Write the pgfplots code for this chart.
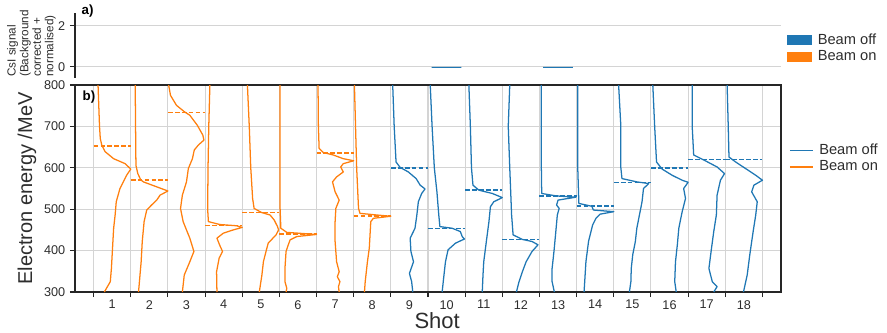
\documentclass[border=0pt]{standalone}
\usepackage{fontspec}
\setmainfont{Liberation Sans}
\usepackage{pgfplots}
\pgfplotsset{compat=1.18}

\definecolor{tabblue}{RGB}{31,119,180}
\definecolor{taborange}{RGB}{255,127,14}
\definecolor{spine}{RGB}{38,38,38}
\definecolor{gridc}{RGB}{212,212,212}
\definecolor{txt}{RGB}{45,45,45}

\pgfplotsset{
  shotcurve/.style={line width=0.95pt, line join=round, forget plot},
  cutoff/.style={line width=1.1pt, dash pattern=on 3.6pt off 1.6pt, forget plot},
  common/.style={
    scale only axis, width=529.5pt,
    xmin=-0.5, xmax=18.5,
    tick align=outside, major tick length=3.75pt,
    tick style={spine, line width=0.8pt},
    axis line style={spine, line width=0.9pt},
    grid style={gridc, line width=0.8pt},
    ticklabel style={font=\fontsize{9.5}{11}\selectfont, text=txt},
    /pgf/number format/assume math mode=true,
    clip mode=individual,
  },
}

\begin{document}
\begin{tikzpicture}

% b) electron spectra, one cell per shot
\begin{axis}[
  common,
  at={(0pt,0pt)}, anchor=south west,
  height=155.25pt,
  ymin=300, ymax=800,
  xtick pos=bottom, ytick pos=left,
  xtick={0,...,18}, xticklabels={},
  extra x ticks={0.5,1.5,...,17.5},
  extra x tick labels={1,2,3,4,5,6,7,8,9,10,11,12,13,14,15,16,17,18},
  extra x tick style={major tick length=0pt, grid=none,
    xticklabel style={yshift=-2.6pt}},
  ytick={300,400,...,800},
  grid=major,
  xlabel={Shot},
  xlabel style={font=\fontsize{16.5}{19}\selectfont, text=txt, inner sep=0pt,
    at={(axis description cs:0.513,-0.097)}, anchor=north},
  ylabel={Electron energy /MeV},
  ylabel style={font=\fontsize{15}{18}\selectfont, text=txt,
    at={(axis description cs:-0.068,0.5)}, anchor=center},
  legend cell align=left,
  legend style={at={(axis description cs:1.011,0.645)}, anchor=west,
    draw=none, fill=none, inner sep=0pt, row sep=0pt, column sep=3pt,
    nodes={inner sep=1.5pt, text=txt},
    font=\fontsize{11}{13}\selectfont},
]
\addlegendimage{tabblue, line width=1.1pt}
\addlegendentry{Beam off}
\addlegendimage{taborange, line width=1.1pt}
\addlegendentry{Beam on}

% shots 1-8: beam on
\addplot[taborange, shotcurve] coordinates {(0.12,800)(0.16,700)(0.18,671)(0.22,655)(0.31,639)(0.54,622)(0.85,610)(1.0,597)(0.89,582)(0.71,550)(0.61,518)(0.58,486)(0.54,454)(0.51,406)(0.48,357)(0.45,325)(0.29,300)};
\addplot[taborange, shotcurve] coordinates {(1.12,800)(1.13,700)(1.14,606)(1.19,586)(1.27,571)(1.34,566)(1.70,554)(2.0,544)(1.79,534)(1.70,522)(1.56,510)(1.43,498)(1.36,470)(1.31,422)(1.28,373)(1.21,300)};
\addplot[taborange, shotcurve] coordinates {(2.02,800)(2.07,775)(2.23,751)(2.45,735)(2.59,727)(2.79,703)(2.94,679)(2.97,667)(2.82,655)(2.71,643)(2.66,622)(2.55,598)(2.50,566)(2.39,534)(2.34,502)(2.41,470)(2.59,430)(2.70,398)(2.59,373)(2.44,341)(2.39,300)};
\addplot[taborange, shotcurve] coordinates {(3.13,800)(3.10,700)(3.08,600)(3.07,500)(3.09,470)(3.40,463)(3.85,460)(4.0,456)(3.76,450)(3.49,442)(3.32,430)(3.39,414)(3.47,398)(3.38,382)(3.31,349)(3.32,300)};
\addplot[taborange, shotcurve] coordinates {(4.14,800)(4.19,700)(4.23,600)(4.28,526)(4.32,502)(4.52,492)(4.75,486)(4.86,474)(4.95,458)(4.98,450)(4.91,438)(4.70,418)(4.64,398)(4.57,373)(4.53,341)(4.46,300)};
\addplot[taborange, shotcurve] coordinates {(5.02,800)(5.02,500)(5.04,454)(5.20,444)(6.0,439)(5.47,434)(5.29,426)(5.24,414)(5.18,398)(5.15,357)(5.15,325)(5.20,309)(5.18,300)};
\addplot[taborange, shotcurve] coordinates {(6.04,800)(6.05,700)(6.07,647)(6.18,637)(6.45,631)(6.72,622)(7.0,617)(6.72,610)(6.65,602)(6.72,590)(6.54,578)(6.43,566)(6.50,542)(6.61,522)(6.52,502)(6.50,470)(6.50,422)(6.54,373)(6.61,349)(6.56,337)(6.63,325)(6.59,313)(6.61,300)};
\addplot[taborange, shotcurve] coordinates {(7.02,800)(7.05,700)(7.08,600)(7.13,502)(7.17,490)(7.62,486)(8.0,483)(7.53,478)(7.46,470)(7.44,438)(7.42,406)(7.37,373)(7.31,325)(7.29,300)};

% shots 9-18: beam off
\addplot[tabblue, shotcurve] coordinates {(8.05,800)(8.09,700)(8.14,614)(8.25,601)(8.47,590)(8.68,574)(8.79,558)(8.92,549)(8.83,538)(8.74,518)(8.70,486)(8.65,454)(8.52,430)(8.54,398)(8.61,373)(8.50,345)(8.56,325)(8.59,300)};
\addplot[tabblue, shotcurve] coordinates {(9.06,800)(9.11,700)(9.17,600)(9.24,542)(9.29,486)(9.32,458)(9.65,454)(9.87,446)(9.92,434)(9.98,428)(9.74,418)(9.54,402)(9.47,373)(9.43,341)(9.38,300)};
\addplot[tabblue, shotcurve] coordinates {(10.10,800)(10.14,700)(10.17,600)(10.21,558)(10.37,546)(10.73,538)(11.0,528)(10.77,518)(10.68,506)(10.64,470)(10.57,422)(10.50,373)(10.48,341)(10.46,300)};
\addplot[tabblue, shotcurve] coordinates {(11.20,800)(11.16,700)(11.20,600)(11.25,486)(11.29,438)(11.54,427)(11.80,422)(11.96,414)(11.80,398)(11.64,373)(11.54,349)(11.45,325)(11.38,300)};
\addplot[tabblue, shotcurve] coordinates {(12.05,800)(12.05,600)(12.06,538)(12.46,532)(12.98,529)(12.50,522)(12.46,510)(12.53,502)(12.48,486)(12.44,446)(12.39,398)(12.34,357)(12.34,325)(12.40,300)};
\addplot[tabblue, shotcurve] coordinates {(13.03,800)(13.03,600)(13.06,514)(13.41,507)(13.45,498)(14.0,494)(13.63,488)(13.52,478)(13.43,462)(13.32,422)(13.25,373)(13.20,300)};
\addplot[tabblue, shotcurve] coordinates {(14.13,800)(14.19,700)(14.19,600)(14.22,574)(14.62,566)(14.94,562)(14.80,550)(14.76,518)(14.69,486)(14.62,454)(14.58,422)(14.51,390)(14.47,357)(14.46,325)(14.42,300)};
\addplot[tabblue, shotcurve] coordinates {(15.05,800)(15.10,700)(15.15,614)(15.30,597)(15.57,582)(15.84,570)(16.0,565)(15.88,550)(15.93,526)(15.84,494)(15.75,454)(15.71,414)(15.66,373)(15.64,325)(15.68,300)};
\addplot[tabblue, shotcurve] coordinates {(16.11,800)(16.11,700)(16.15,631)(16.42,619)(16.78,602)(16.98,586)(16.87,570)(16.78,534)(16.76,486)(16.69,446)(16.63,406)(16.56,357)(16.65,325)(16.78,313)(16.69,300)};
\addplot[tabblue, shotcurve] coordinates {(17.05,800)(17.08,700)(17.10,626)(17.28,614)(17.55,598)(17.82,582)(18.0,570)(17.77,558)(17.71,542)(17.86,518)(17.82,486)(17.75,446)(17.66,390)(17.59,341)(17.49,300)};

% cut-off energies
\addplot[taborange, cutoff] coordinates {(0,653)(1,653)};
\addplot[taborange, cutoff] coordinates {(1,570)(2,570)};
\addplot[taborange, cutoff] coordinates {(2,733)(3,733)};
\addplot[taborange, cutoff] coordinates {(3,460)(4,460)};
\addplot[taborange, cutoff] coordinates {(4,492)(5,492)};
\addplot[taborange, cutoff] coordinates {(5,440)(6,440)};
\addplot[taborange, cutoff] coordinates {(6,636)(7,636)};
\addplot[taborange, cutoff] coordinates {(7,484)(8,484)};
\addplot[tabblue, cutoff] coordinates {(8,600)(9,600)};
\addplot[tabblue, cutoff] coordinates {(9,454)(10,454)};
\addplot[tabblue, cutoff] coordinates {(10,546)(11,546)};
\addplot[tabblue, cutoff] coordinates {(11,427)(12,427)};
\addplot[tabblue, cutoff] coordinates {(12,532)(13,532)};
\addplot[tabblue, cutoff] coordinates {(13,508)(14,508)};
\addplot[tabblue, cutoff] coordinates {(14,564)(15,564)};
\addplot[tabblue, cutoff] coordinates {(15,599)(16,599)};
\addplot[tabblue, cutoff] coordinates {(16,620)(17,620)};
\addplot[tabblue, cutoff] coordinates {(17,620)(18,620)};

\node[anchor=west, font=\bfseries\fontsize{10}{12}\selectfont, text=black]
  at (rel axis cs:0,1) [xshift=2.2pt, yshift=-9pt] {b)};
\end{axis}

% a) CsI signal per shot
\begin{axis}[
  common,
  at={(0pt,160.5pt)}, anchor=south west,
  height=48.75pt,
  ymin=-0.54, ymax=2.63,
  axis x line=none, axis y line*=left,
  ytick={0,2}, ymajorgrids,
  ylabel={CsI signal\\(Background\\corrected +\\normalised)},
  ylabel style={align=left, font=\fontsize{8.8}{9.4}\selectfont, text=txt,
    at={(axis description cs:-0.0616,0.53)}, anchor=center},
  legend cell align=left,
  legend style={at={(axis description cs:1.0085,0.46)}, anchor=west,
    draw=none, fill=none, inner sep=0pt, row sep=0pt, column sep=3pt,
    nodes={inner sep=1.5pt, text=txt},
    font=\fontsize{11}{13}\selectfont},
]
\addlegendimage{legend image code/.code={\fill[tabblue] (0pt,-3.3pt) rectangle (18pt,3.3pt);}}
\addlegendentry{Beam off}
\addlegendimage{legend image code/.code={\fill[taborange] (0pt,-3.3pt) rectangle (18pt,3.3pt);}}
\addlegendentry{Beam on}

\addplot[ybar, bar width=0.8, bar shift=0pt, draw=tabblue, fill=tabblue,
  line width=0.55pt, forget plot]
  coordinates {(9.5,0)(12.5,0)};

\node[anchor=west, font=\bfseries\fontsize{10}{12}\selectfont, text=black]
  at (rel axis cs:0,1) [xshift=1.5pt, yshift=1.5pt] {a)};
\end{axis}

\pgfresetboundingbox
\useasboundingbox (-56.25pt,-30pt) rectangle (609pt,219pt);
\end{tikzpicture}
\end{document}
